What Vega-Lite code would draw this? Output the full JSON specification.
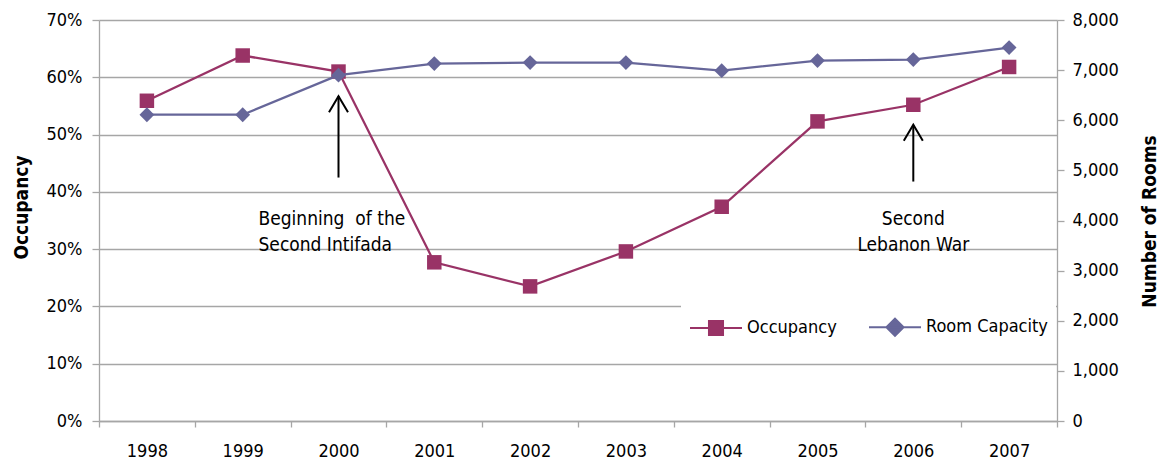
{
  "$schema": "https://vega.github.io/schema/vega-lite/v6.json",
  "autosize": {"type": "none"},
  "padding": {"left": 99, "top": 20, "right": 102, "bottom": 45},
  "width": 958,
  "height": 401,
  "background": "white",
  "config": {
    "font": "DejaVu Sans Condensed, sans-serif",
    "view": {"stroke": null},
    "axis": {
      "labelFont": "DejaVu Sans Condensed, sans-serif",
      "titleFont": "DejaVu Sans Condensed, sans-serif",
      "labelFontSize": 18,
      "titleFontSize": 19,
      "titleFontWeight": "bold",
      "labelColor": "#000000",
      "titleColor": "#000000",
      "domainColor": "#a6a6a6",
      "tickColor": "#a6a6a6",
      "gridColor": "#a6a6a6",
      "domainWidth": 1.3,
      "tickWidth": 1.3,
      "gridWidth": 1.3
    }
  },
  "datasets": {
    "main": [
      {"year": "1998", "occ": 0.559, "rooms": 6110},
      {"year": "1999", "occ": 0.638, "rooms": 6110},
      {"year": "2000", "occ": 0.610, "rooms": 6900},
      {"year": "2001", "occ": 0.277, "rooms": 7130},
      {"year": "2002", "occ": 0.235, "rooms": 7150},
      {"year": "2003", "occ": 0.296, "rooms": 7150},
      {"year": "2004", "occ": 0.374, "rooms": 6990},
      {"year": "2005", "occ": 0.523, "rooms": 7190},
      {"year": "2006", "occ": 0.552, "rooms": 7210},
      {"year": "2007", "occ": 0.618, "rooms": 7450}
    ],
    "arrows": [
      {"year": "2000", "tip": 0.567, "base": 0.425},
      {"year": "2006", "tip": 0.517, "base": 0.418}
    ],
    "notesLeft": [
      {"year": "2000", "pos": 0.353, "label": ["Beginning\u00a0 of the", "Second Intifada"]}
    ],
    "notesCenter": [
      {"year": "2006", "pos": 0.353, "label": ["Second", "Lebanon War"]}
    ]
  },
  "layer": [
    {
      "encoding": {
        "x": {
          "field": "year", "type": "ordinal", "bandPosition": 0.5,
          "scale": {"type": "band", "paddingInner": 0, "paddingOuter": 0},
          "axis": {"title": null, "labelAngle": 0, "tickBand": "extent", "tickSize": 6, "labelPadding": 15, "grid": false}
        }
      },
      "layer": [
        {
          "data": {"name": "main"},
          "mark": {"type": "line", "strokeWidth": 2.25, "point": {"shape": "square", "size": 210, "filled": true, "opacity": 1}},
          "encoding": {
            "y": {
              "field": "occ", "type": "quantitative",
              "scale": {"domain": [0, 0.7], "nice": false, "zero": true},
              "axis": {"title": "Occupancy", "values": [0, 0.1, 0.2, 0.3, 0.4, 0.5, 0.6, 0.7], "format": ".0%", "grid": true, "tickSize": 7, "labelPadding": 10, "titleX": -78, "titleY": 187, "titleBaseline": "middle", "titleAngle": -90}
            },
            "color": {
              "datum": "Occupancy",
              "scale": {"domain": ["Occupancy", "Room Capacity"], "range": ["#993366", "#666699"]},
              "legend": {
                "title": null,
                "orient": "none",
                "legendX": 582,
                "legendY": 272,
                "direction": "horizontal",
                "fillColor": "white",
                "padding": 8,
                "symbolSize": 2704,
                "symbolStrokeWidth": 2,
                "symbolType": "M-1,0H1",
                "labelFontSize": 18,
                "labelColor": "#000000",
                "labelFont": "DejaVu Sans Condensed, sans-serif",
                "labelOffset": 4,
                "columnPadding": 28,
                "encode": {
                  "symbols": {
                    "update": {
                      "shape": {"signal": "datum.value === 'Occupancy' ? 'M-1,0H1M-0.27,-0.27H0.27V0.27H-0.27Z' : 'M-1,0H1M-0.33,0L0,-0.33L0.33,0L0,0.33Z'"},
                      "fill": {"signal": "datum.value === 'Occupancy' ? '#993366' : '#666699'"},
                      "stroke": {"signal": "datum.value === 'Occupancy' ? '#993366' : '#666699'"},
                      "opacity": {"value": 1}
                    }
                  }
                }
              }
            }
          }
        },
        {
          "data": {"name": "arrows"},
          "mark": {"type": "rule", "color": "#000000", "strokeWidth": 2},
          "encoding": {
            "y": {"field": "tip", "type": "quantitative", "axis": {"title": "Occupancy"}},
            "y2": {"field": "base"}
          }
        },
        {
          "data": {"name": "arrows"},
          "mark": {"type": "point", "shape": "M-0.95,1.6L0,0L0.95,1.6", "size": 400, "filled": false, "stroke": "#000000", "strokeWidth": 2, "opacity": 1},
          "encoding": {
            "y": {"field": "tip", "type": "quantitative", "axis": {"title": "Occupancy"}}
          }
        },
        {
          "data": {"name": "notesLeft"},
          "mark": {"type": "text", "align": "left", "baseline": "middle", "dx": -80, "fontSize": 19, "lineHeight": 26, "color": "#000000"},
          "encoding": {
            "y": {"field": "pos", "type": "quantitative", "axis": {"title": "Occupancy"}},
            "text": {"field": "label"}
          }
        },
        {
          "data": {"name": "notesCenter"},
          "mark": {"type": "text", "align": "center", "baseline": "middle", "fontSize": 19, "lineHeight": 26, "color": "#000000"},
          "encoding": {
            "y": {"field": "pos", "type": "quantitative", "axis": {"title": "Occupancy"}},
            "text": {"field": "label"}
          }
        }
      ]
    },
    {
      "data": {"name": "main"},
      "mark": {"type": "line", "strokeWidth": 2.25, "point": {"shape": "diamond", "size": 220, "filled": true, "opacity": 1}},
      "encoding": {
        "x": {"field": "year", "type": "ordinal", "bandPosition": 0.5},
        "y": {
          "field": "rooms", "type": "quantitative",
          "scale": {"domain": [0, 8000], "nice": false},
          "axis": {"title": "Number of Rooms", "orient": "right", "values": [0, 1000, 2000, 3000, 4000, 5000, 6000, 7000, 8000], "format": ",.0f", "grid": false, "tickSize": 7, "labelPadding": 8, "titleX": 92, "titleY": 201, "titleBaseline": "middle", "titleAngle": -90}
        },
        "color": {"datum": "Room Capacity"}
      }
    }
  ],
  "resolve": {"scale": {"y": "independent"}}
}
